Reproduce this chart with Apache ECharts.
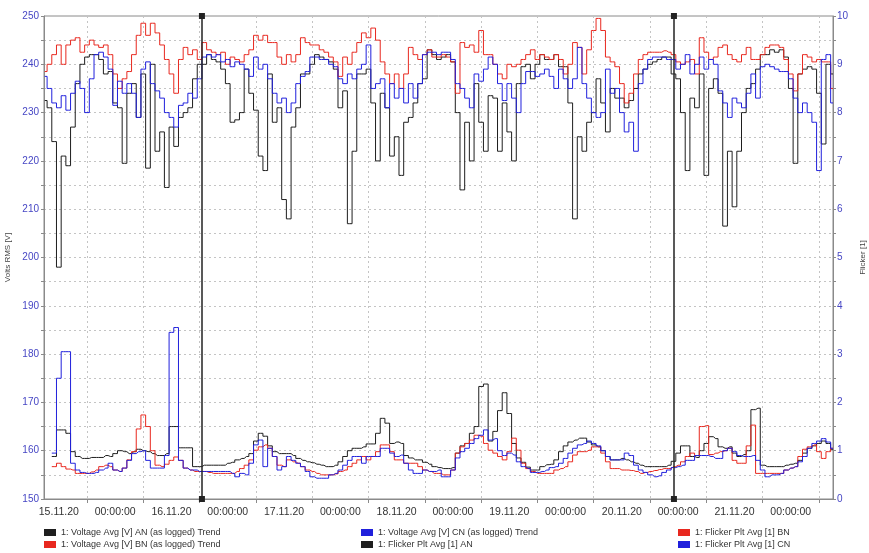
<!DOCTYPE html>
<html>
<head>
<meta charset="utf-8">
<script src="https://cdn.jsdelivr.net/npm/echarts@6/dist/echarts.min.js"></script>
<style>html,body{margin:0;padding:0;background:#fff}#c{width:869px;height:553px}</style>
</head>
<body>
<div id="c"></div>
<script>
// ---- data (hourly samples, hour 0 = first x tick) ----
const startHour = -9;
const stepHours = 1;
const xTickLabels = ["15.11.20","00:00:00","16.11.20","00:00:00","17.11.20","00:00:00","18.11.20","00:00:00","19.11.20","00:00:00","20.11.20","00:00:00","21.11.20","00:00:00"];
const cursorHours = [24.5, 125.1];
const seriesNames = [
  "1: Voltage Avg [V] AN (as logged) Trend",
  "1: Voltage Avg [V] BN (as logged) Trend",
  "1: Voltage Avg [V] CN (as logged) Trend",
  "1: Flicker Plt Avg [1] AN",
  "1: Flicker Plt Avg [1] BN",
  "1: Flicker Plt Avg [1] CN"
];
const voltageAN = [232.5,231,224,198,221,219,227,236,240,241.5,242,242,241,238,238.5,232,231,219.5,234,236,229,238,218.5,240,222,226,214.5,227,223,229,230,231,237,240,240,242,241,240.5,239,236,228,228.5,230,
239,234,230.5,221,218,238,228,231,212,208,227,231,238,238,240,242,241.5,241,240.5,239,231,234.5,207,222,238,238,239,232,220,234,231,221,225,217,228,229,232,236,237,243,242,241,
241.5,242,240.5,230,214,228,220,236,228,222,233.5,233,222,232,226,220,236,239.5,240,237,240,242,241,241,242,239.5,239.5,232,208,225,222,228,230,237,232,226,235,233,233,231,232.5,235,
238,239,240,240.5,241,241.5,241.5,238,237,230,218,233,231,238,217,235,237,234,206.5,222,210.5,222,230,235,236,239,242,242,243,242.5,243,241.5,235,219.5,238,239,239.5,239,234,223.5,240,238];
const voltageBN = [238.5,240,242,244,240,244,245,245.5,242.5,244,245,244,243.5,244,242,238,235,237,238.5,242,246,248.5,246,248.5,246.5,244,241,238,234,241,243.5,242,243,241,244.5,243,242.5,242,242.5,240,241.5,241,240.5,
242,243,246,245,246,244.5,244.5,241.5,240,242,240.5,242,245.5,244.5,244,244,243,242.5,241.5,240.5,237.5,241.5,240,242.5,244.5,246.5,245.5,247.5,245,240.5,238,236,238,235,238,243.5,242,241,242,243,241.5,241.5,
242,241.5,240.5,234,244.5,243.5,244,242.5,247,242,242,240,238,237,240,239.5,240,241,242,243,241,242,241.5,241,242,241,238,240,244.5,243.5,238,243,247,249.5,247,241.5,240.5,239.5,236,232,234,238,
241,242,242.5,242.5,242.5,242.8,242.5,242,240.5,240,240.5,241,238,245.5,242.5,241,241.5,243.5,244,242,241,240.5,242,243.5,241,241,242,243.5,244,244,243.5,241,238,234.5,238,242,241.5,240.5,241,240.5,240.5,235];
const voltageCN = [237.5,235,232,231,233.5,230.5,234,236.5,235,230,237,242,242.5,241.5,239,231.5,236.5,234,236,234,229,239,240.5,236,234.5,233,230,229,227,231.5,232,234,233,237,241.5,242,241.5,242,240.5,241,239.5,240.5,240,
239,237.5,241.5,239,240,237,234,232,233,230,232,236,237.5,238.5,241.5,241.5,241,241,240,239.5,237,236,238,237,239,240,244,235,236,237,231,236,233,235,232,236,233,236,242,242.5,242.5,242,
242.5,242.5,241,236,235,233,231,238,236.5,239,241.5,240,236,232.5,236,233,230,236,238.5,238.5,237.5,238,239,237.5,235,239,237,235,237,243.5,236,233,230,229,230,239,234,235,230,226,228,222,
236,239,241,241.5,241.5,241.5,241,241,239,240,242,238,240,241.5,239,241,240,234.5,232,229,233,232,231,234,238,233,239.5,240,239.5,239,238.5,238.5,237,233,230,232,230,228,218,241,242,232];
const flickerAN = [null,null,0.88,1.43,1.43,1.36,0.98,0.88,0.84,0.84,0.86,0.86,0.86,0.9,0.88,0.94,1.0,0.98,0.94,0.98,1.03,1.0,0.98,0.94,0.9,0.9,0.94,1.5,1.5,1.06,1.06,1.06,0.67,0.67,0.7,0.7,0.7,0.7,0.7,0.74,0.76,0.81,0.84,
0.88,0.94,1.2,1.36,1.3,1.1,0.98,0.94,0.94,0.94,0.9,0.84,0.8,0.77,0.75,0.72,0.7,0.67,0.67,0.7,0.77,0.88,1.0,1.05,1.05,1.08,1.14,1.14,1.36,1.67,1.57,1.15,1.18,1.15,0.9,0.85,0.81,0.81,0.76,0.72,0.67,0.65,
0.63,0.63,0.65,0.95,1.1,1.15,1.36,1.5,2.33,2.38,1.2,1.4,1.83,2.2,1.77,1.15,0.85,0.76,0.66,0.6,0.6,0.67,0.71,0.72,0.81,0.98,1.1,1.18,1.22,1.26,1.26,1.18,1.12,1.08,1.0,0.88,0.81,0.81,0.84,0.81,0.77,0.74,
0.7,0.67,0.67,0.67,0.67,0.67,0.7,0.78,0.95,1.1,1.1,0.88,0.86,1.0,1.15,1.29,1.25,1.08,1.05,1.08,0.95,0.88,0.92,1.0,1.85,1.88,0.7,0.67,0.67,0.67,0.67,0.7,0.72,0.74,0.8,0.95,1.05,1.1,1.15,1.2,1.15,1.02];
const flickerBN = [null,null,0.67,0.74,0.67,0.62,0.6,0.53,0.53,0.53,0.56,0.6,0.67,0.7,0.67,0.6,0.57,0.64,0.81,0.98,1.45,1.74,1.5,1.0,0.7,0.67,0.72,0.8,0.87,0.8,0.64,0.6,0.57,0.57,0.57,0.55,0.53,0.53,0.53,0.53,0.53,0.57,0.63,
0.7,0.81,1.01,1.08,1.12,1.05,0.88,0.7,0.67,0.81,0.77,0.74,0.67,0.6,0.57,0.53,0.5,0.5,0.5,0.52,0.57,0.6,0.67,0.74,0.81,0.88,0.81,0.88,0.98,1.12,1.12,0.98,0.81,0.81,0.74,0.74,0.74,0.67,0.6,0.57,0.53,0.53,
0.5,0.5,0.6,0.95,1.08,1.15,1.22,1.32,1.3,1.15,1.01,0.95,0.88,0.81,0.98,1.26,1.01,0.74,0.63,0.57,0.53,0.53,0.53,0.53,0.6,0.63,0.67,0.77,0.91,0.98,0.98,1.01,1.08,1.08,0.95,0.77,0.63,0.63,0.6,0.6,0.59,0.57,
0.53,0.55,0.57,0.59,0.61,0.63,0.63,0.67,0.7,0.77,0.88,0.95,0.9,1.5,1.52,0.92,0.95,0.98,1.0,1.05,0.8,0.74,0.74,1.1,1.53,0.53,0.53,0.53,0.53,0.53,0.53,0.6,0.64,0.67,0.88,1.03,1.08,1.12,0.98,0.84,0.98,1.05];
const flickerCN = [null,null,0.95,2.5,3.05,3.05,0.74,0.6,0.55,0.53,0.53,0.55,0.6,0.64,0.74,0.6,0.57,0.64,0.8,0.94,0.98,1.0,0.8,0.64,0.64,0.64,0.9,3.45,3.55,0.8,0.64,0.6,0.6,0.57,0.57,0.57,0.57,0.57,0.57,0.57,0.53,0.46,0.53,
0.5,0.74,1.12,1.22,0.67,1.05,0.88,0.6,0.67,0.88,0.8,0.74,0.67,0.57,0.46,0.43,0.43,0.43,0.5,0.53,0.6,0.7,0.8,0.88,0.88,0.74,0.88,0.88,0.88,1.05,1.05,0.95,0.88,0.91,0.74,0.6,0.53,0.53,0.6,0.57,0.57,0.6,
0.46,0.46,0.6,0.85,0.98,1.05,1.15,1.25,1.32,1.43,1.22,1.25,1.0,0.9,0.95,0.91,0.77,0.67,0.63,0.55,0.55,0.57,0.6,0.65,0.67,0.74,0.84,0.95,1.05,1.12,1.15,1.2,1.15,1.1,1.0,0.88,0.81,0.81,0.81,0.95,0.9,0.7,
0.6,0.55,0.5,0.46,0.48,0.55,0.6,0.65,0.67,0.7,0.8,0.8,0.9,0.9,0.9,0.88,0.84,0.84,1.0,1.05,0.98,0.9,0.88,0.88,0.9,0.8,0.6,0.46,0.5,0.5,0.53,0.6,0.64,0.67,0.77,0.88,1.05,1.15,1.2,1.25,1.18,1.05];

// ---- build ----
const hours = voltageAN.map((_, i) => startHour + i * stepHours);
const pair = arr => arr.map((v, i) => [hours[i], v]);
const tickHours = xTickLabels.map((_, k) => 12 * k);
const labelHours = xTickLabels.map((_, k) => 12 * k - 6);

const FONT = "'Liberation Sans', Arial, sans-serif";
const BLACK = '#1e1e1e', RED = '#e8281f', BLUE = '#2020dc';
const colors = [BLACK, RED, BLUE, BLACK, RED, BLUE];
const datasets = [voltageAN, voltageBN, voltageCN, flickerAN, flickerBN, flickerCN];

const series = datasets.map((d, i) => ({
  name: seriesNames[i],
  type: 'line',
  yAxisIndex: i < 3 ? 0 : 1,
  data: pair(d),
  step: 'middle',
  showSymbol: false,
  connectNulls: false,
  lineStyle: { width: 1, color: colors[i] },
  itemStyle: { color: colors[i] },
  z: 2
}));
series[0].markLine = {
  silent: true,
  symbol: ['rect', 'rect'],
  symbolSize: [6, 6],
  label: { show: false },
  lineStyle: { color: '#222', width: 1.5, type: 'solid' },
  data: cursorHours.map(h => ({ xAxis: h }))
};

const legendBase = {
  orient: 'vertical', top: 528, itemWidth: 12, itemHeight: 7, itemGap: 3, icon: 'rect',
  textStyle: { fontFamily: FONT, fontSize: 9, color: '#333' }, padding: 0, selectedMode: false
};

const chart = echarts.init(document.getElementById('c'), null, { renderer: 'canvas' });
chart.setOption({
  animation: false,
  backgroundColor: '#fff',
  grid: { left: 44, right: 36, top: 16, bottom: 54, show: true, borderColor: '#8a8a8a', borderWidth: 1,
          containLabel: false, outerBoundsMode: 'none' },
  legend: [
    Object.assign({}, legendBase, { left: 44, data: [seriesNames[0], seriesNames[1]] }),
    Object.assign({}, legendBase, { left: 361, data: [seriesNames[2], seriesNames[3]] }),
    Object.assign({}, legendBase, { left: 678, data: [seriesNames[4], seriesNames[5]] })
  ],
  xAxis: {
    type: 'value', min: -9.16, max: 159,
    axisLine: { show: true, onZero: false, lineStyle: { color: '#8a8a8a' } },
    axisTick: { show: true, length: 4, customValues: tickHours, lineStyle: { color: '#8a8a8a' } },
    axisLabel: {
      customValues: labelHours, margin: 8,
      fontFamily: FONT, fontSize: 10.5, color: '#333',
      formatter: v => xTickLabels[Math.round((v + 6) / 12)] || ''
    },
    splitLine: { show: true, lineStyle: { color: '#c4c4c4', type: [2, 3], width: 1 } }
  },
  yAxis: [
    {
      type: 'value', min: 150, max: 250, interval: 5, position: 'left',
      name: 'Volts RMS [V]', nameLocation: 'middle', nameGap: 29, nameRotate: 90,
      nameTextStyle: { fontFamily: FONT, fontSize: 8, color: '#444' },
      axisLine: { show: true, onZero: false, lineStyle: { color: '#8a8a8a' } },
      axisTick: { show: true, length: 3, lineStyle: { color: '#8a8a8a' } },
      axisLabel: { fontFamily: FONT, fontSize: 10, color: '#4646c4', margin: 5,
        formatter: v => (v % 10 === 0 ? String(v) : '') },
      splitLine: { show: true, lineStyle: { color: '#c4c4c4', type: [2, 3], width: 1 } }
    },
    {
      type: 'value', min: 0, max: 10, interval: 0.5, position: 'right',
      name: 'Flicker [1]', nameLocation: 'middle', nameGap: 24, nameRotate: 90,
      nameTextStyle: { fontFamily: FONT, fontSize: 8, color: '#444' },
      axisLine: { show: true, onZero: false, lineStyle: { color: '#8a8a8a' } },
      axisTick: { show: true, length: 3, lineStyle: { color: '#8a8a8a' } },
      axisLabel: { fontFamily: FONT, fontSize: 10, color: '#4646c4', margin: 4,
        formatter: v => (Math.abs(v - Math.round(v)) < 1e-9 ? String(Math.round(v)) : '') },
      splitLine: { show: false }
    }
  ],
  series: series
});
</script>
</body>
</html>
